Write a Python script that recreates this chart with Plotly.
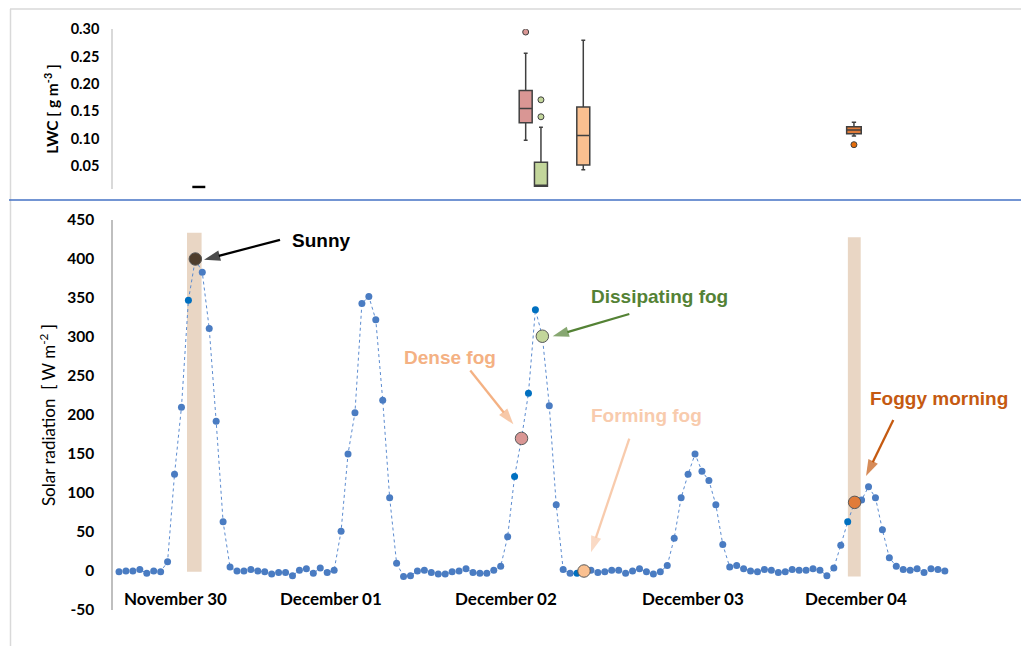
import plotly.graph_objects as go

# ---------------- data ----------------
hours = list(range(1, 121))
solar = [-1, 0, 0, 2, -3, 0, -1, 12, 124, 210, 347, 400, 383, 311, 192, 63, 5, 0, 0, 2, 0, -1, -4, -2,
         -2, -6, 1, 3, -3, 4, -2, 1, 51, 150, 203, 343, 352, 322, 219, 94, 10, -7, -6, 0, 1, -2, -4, -4,
         -1, 0, 3, -2, -3, -3, 1, 6, 44, 121, 170, 228, 335, 301, 212, 85, 2, -3, -3, 0, 1, -2, -1, 1,
         1, -3, 0, 3, -1, -4, -1, 7, 42, 94, 124, 150, 128, 116, 85, 34, 5, 7, 3, 0, -1, 2, 1, -2,
         -1, 2, 1, 1, 3, 1, -6, 4, 33, 63, 88, 91, 108, 94, 53, 17, 6, 2, 1, 3, -2, 3, 2, 0]
dark_points = [11, 58, 60, 61, 67, 106]

solar_ticks = [-50, 0, 50, 100, 150, 200, 250, 300, 350, 400, 450]
solar_ticktext = ["-50", "0", "50", "100", "150", "200", "250", "300", "350", "400", "450"]
lwc_ticks = [0.05, 0.10, 0.15, 0.20, 0.25, 0.30]

day_labels = ["November 30", "December 01", "December 02", "December 03", "December 04"]
day_label_pos = [9.17, 31.5, 56.8, 83.7, 107.2]

# highlighted conditions
cond_names = ["Sunny", "Dense fog", "Dissipating fog", "Forming fog", "Foggy morning"]
cond_hour = [12, 59, 62, 68, 107]
cond_colors = ["#4F3D2B", "#D99694", "#C3D69B", "#FAC090", "#E07B39"]
cond_text_colors = ["#000000", "#F4B183", "#548235", "#F8CBAD", "#C55A11"]

# LWC box statistics per condition
box_x = [12.5, 59.6, 61.8, 67.9, 106.9]
box_low = [0.0115, 0.097, 0.013, 0.043, 0.105]
box_q1 = [0.0115, 0.129, 0.013, 0.052, 0.109]
box_med = [0.0115, 0.155, 0.013, 0.106, 0.116]
box_q3 = [0.0115, 0.188, 0.057, 0.158, 0.122]
box_high = [0.0115, 0.256, 0.121, 0.280, 0.130]
box_width = [1.87, 1.87, 1.87, 1.87, 2.1]
box_line = ["#000000", "#404040", "#404040", "#404040", "#404040"]
outlier_x = [59.6, 61.8, 61.8, 106.9]
outlier_y = [0.295, 0.171, 0.140, 0.089]
outlier_color = ["#D99694", "#C3D69B", "#C3D69B", "#E46C0A"]

# shaded bands (sunny noon, foggy morning)
band_x = [11.85, 106.95]
band_base = [-1, -7]
band_top = [433.5, 428]
band_width = [2.1, 1.85]

# annotation arrows (tail -> tip) and label positions, in data units
arrow_tail_x = [24.2, 51.62, 74.53, 74.53, 112.57]
arrow_tail_y = [424.6, 257.0, 329.5, 169.7, 193.5]
arrow_tip_x = [13.25, 57.82, 63.49, 69.01, 108.64]
arrow_tip_y = [399, 188, 300.9, 23.9, 121.9]
label_x = [30.11, 48.69, 78.95, 76.94, 119.16]
label_y = [423.3, 273.7, 351.7, 199.5, 221.2]

# ---------------- figure ----------------
W, H = 1021, 646
L, R = 113, 960
fig = go.Figure()

# bands
fig.add_trace(go.Bar(x=band_x, y=[t - b for t, b in zip(band_top, band_base)], base=band_base,
                     width=band_width, marker=dict(color="#E9D6C4", line=dict(width=0)),
                     xaxis="x", yaxis="y", showlegend=False, hoverinfo="skip"))

mcolors = ["#0070C0" if h in dark_points else "#4A7CC2" for h in hours]
fig.add_trace(go.Scatter(x=hours, y=solar, mode="lines+markers",
                         line=dict(color="#5B8BD0", width=1, dash="dot"),
                         marker=dict(color=mcolors, size=7),
                         xaxis="x", yaxis="y", showlegend=False))

fig.add_trace(go.Scatter(x=cond_hour, y=[solar[h - 1] for h in cond_hour], mode="markers",
                         marker=dict(color=cond_colors, size=12.5, line=dict(color="#595959", width=1)),
                         xaxis="x", yaxis="y", showlegend=False))

# arrows
for i in range(len(cond_names)):
    fig.add_trace(go.Scatter(x=[arrow_tail_x[i], arrow_tip_x[i]], y=[arrow_tail_y[i], arrow_tip_y[i]],
                             mode="lines+markers",
                             line=dict(color=cond_text_colors[i], width=2.3),
                             marker=dict(symbol=["circle", "arrow"], size=[0, 17], angleref="previous",
                                         color=cond_text_colors[i], line=dict(width=0)),
                             xaxis="x", yaxis="y", showlegend=False, hoverinfo="skip"))

# boxes
for i in range(len(box_x)):
    fig.add_trace(go.Box(x=[box_x[i]], q1=[box_q1[i]], median=[box_med[i]], q3=[box_q3[i]],
                         lowerfence=[box_low[i]], upperfence=[box_high[i]],
                         width=box_width[i], whiskerwidth=0.3,
                         fillcolor=cond_colors[i] if i > 0 else "#000000",
                         line=dict(color=box_line[i], width=1.5 if i > 0 else 2.5),
                         boxpoints=False, xaxis="x2", yaxis="y2", showlegend=False))
fig.add_trace(go.Scatter(x=outlier_x, y=outlier_y, mode="markers",
                         marker=dict(color=outlier_color, size=6, line=dict(color="#404040", width=1)),
                         xaxis="x2", yaxis="y2", showlegend=False))

# ranges from pixel layout
step = 6.94
x0 = 1 - (119 - L) / step
x1 = 1 + (R - 119) / step

tickfont = dict(family="Lato", size=15.5, color="#000000", weight="bold")
fig.update_layout(
    width=W, height=H, margin=dict(l=L, r=W - R, t=0, b=0, pad=0, autoexpand=False),
    paper_bgcolor="white", plot_bgcolor="white",
    barmode="overlay",
    xaxis=dict(domain=[0, 1], range=[x0, x1], showticklabels=False, showgrid=False,
               zeroline=False, showline=False, anchor="y", automargin=False),
    yaxis=dict(domain=[36 / H, 426 / H], range=[-50, 450], tickvals=solar_ticks, ticktext=solar_ticktext,
               showgrid=False, zeroline=False,
               showline=True, linecolor="#BFBFBF", linewidth=1.5, ticks="", tickfont=tickfont,
               ticklabelstandoff=14, automargin=False,
               title=dict(text="Solar radiation  [ W m<sup>-2</sup> ]", standoff=7,
                          font=dict(family="Lato", size=17, color="#000000")), anchor="x"),
    xaxis2=dict(domain=[0, 1], range=[x0, x1], showticklabels=False, showgrid=False,
                zeroline=False, showline=False, anchor="y2", automargin=False),
    yaxis2=dict(domain=[1 - 188.7 / H, 1 - 29.3 / H], range=[0.0085, 0.30],
                tickvals=lwc_ticks, tickformat=".2f",
                showgrid=False, zeroline=False, showline=True, linecolor="#D9D9D9", linewidth=1.5,
                ticks="", ticklabelstandoff=9, automargin=False,
                tickfont=dict(family="Lato", size=14.5, color="#000000", weight="bold"),
                title=dict(text="LWC [ g m<sup>-3</sup> ]", standoff=8,
                           font=dict(family="Lato", size=15.5, color="#000000", weight="bold")),
                anchor="x2"),
)

annotations = []
for lab, xp in zip(day_labels, day_label_pos):
    annotations.append(dict(x=xp, y=-35, xref="x", yref="y", text=lab, showarrow=False,
                            font=dict(family="Lato", size=17, color="#000000", weight="bold")))
for i in range(len(cond_names)):
    annotations.append(dict(x=label_x[i], y=label_y[i], xref="x", yref="y", text=cond_names[i],
                            showarrow=False,
                            font=dict(family="Liberation Sans", size=19, color=cond_text_colors[i],
                                      weight="bold")))
fig.update_layout(annotations=annotations)

def px_x(p):
    return (p - L) / (R - L)

def px_y(p):
    return 1 - p / H

fig.update_layout(shapes=[
    dict(type="line", xref="paper", yref="paper", x0=px_x(10), x1=px_x(W), y0=px_y(9), y1=px_y(9),
         line=dict(color="#D9D9D9", width=1.5)),
    dict(type="line", xref="paper", yref="paper", x0=px_x(10.5), x1=px_x(10.5), y0=px_y(9), y1=px_y(H),
         line=dict(color="#D9D9D9", width=1.5)),
    dict(type="line", xref="paper", yref="paper", x0=px_x(9), x1=px_x(W), y0=px_y(200), y1=px_y(200),
         line=dict(color="#4472C4", width=1.5)),
])

fig.write_html("out.html",
               post_script="document.body.style.margin='0';document.body.style.overflow='hidden';")
